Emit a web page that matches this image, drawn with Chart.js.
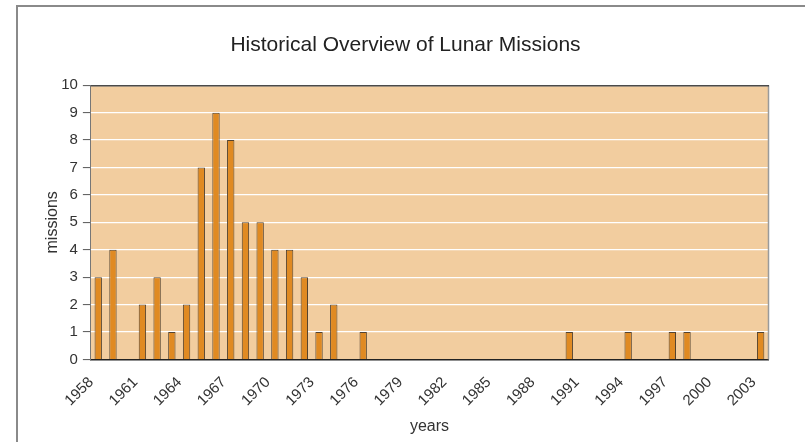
<!DOCTYPE html>
<html>
<head>
<meta charset="utf-8">
<title>Lunar missions</title>
<script src="https://cdn.jsdelivr.net/npm/chart.js@4/dist/chart.umd.min.js"></script>
<style>
  html, body { margin: 0; padding: 0; background: #fff; overflow: hidden; }
  #frame {
    position: absolute; left: 16px; top: 5px;
    width: 800px; height: 450px;
    border-left: 2px solid #8a8a8a; border-top: 2px solid #8a8a8a;
  }
  #wrap { position: absolute; left: 0; top: 0; width: 782px; height: 435px; }
</style>
</head>
<body>
<div id="frame">
  <div id="wrap"><canvas id="lunar-graph"></canvas></div>
</div>
<script>
// missions launched per year
const years = [1958, 1959, 1960, 1961, 1962, 1963, 1964, 1965, 1966, 1967,
  1968, 1969, 1970, 1971, 1972, 1973, 1974, 1975, 1976, 1977,
  1978, 1979, 1980, 1981, 1982, 1983, 1984, 1985, 1986, 1987,
  1988, 1989, 1990, 1991, 1992, 1993, 1994, 1995, 1996, 1997,
  1998, 1999, 2000, 2001, 2002, 2003]
const missions = [3, 4, 0, 2, 3, 1, 2, 7, 9, 8,
  5, 5, 4, 4, 3, 1, 2, 0, 1, 0,
  0, 0, 0, 0, 0, 0, 0, 0, 0, 0,
  0, 0, 1, 0, 0, 0, 1, 0, 0, 1,
  1, 0, 0, 0, 0, 1]
const yTicks = [0, 1, 2, 3, 4, 5, 6, 7, 8, 9, 10]

const plot_bg = "#f2cd9f"
const bar_color = "#e08a22"
const bar_border = "#54432f"

// tan plot background plus the darker frame on top and right
const plotFrame = {
    id: 'plotFrame',
    beforeDraw(chart) {
        var a = chart.chartArea
        var ctx = chart.ctx
        ctx.save()
        ctx.fillStyle = plot_bg
        ctx.fillRect(a.left, a.top, a.right - a.left, a.bottom - a.top)
        ctx.restore()
    },
    afterDatasetsDraw(chart) {
        var a = chart.chartArea
        var ctx = chart.ctx
        ctx.save()
        ctx.lineWidth = 1.5
        ctx.strokeStyle = "#9a9a9a"
        ctx.beginPath()
        ctx.moveTo(a.right + 0.5, a.top)
        ctx.lineTo(a.right + 0.5, a.bottom)
        ctx.stroke()
        ctx.strokeStyle = "#4a4a4a"
        ctx.beginPath()
        ctx.moveTo(a.left, a.top + 0.5)
        ctx.lineTo(a.right + 1, a.top + 0.5)
        ctx.stroke()
        ctx.restore()
    }
}

Chart.defaults.font.family = "'Liberation Sans', Arial, sans-serif"
Chart.defaults.color = "#333"

var graph = document.getElementById('lunar-graph')
var chart = new Chart(graph, {
    type: 'bar',
    data: {
        labels: years,
        datasets: [{
            label: 'missions',
            data: missions,
            backgroundColor: bar_color,
            borderColor: bar_border,
            borderWidth: 1,
            borderSkipped: 'bottom',
            categoryPercentage: 1.0,
            barPercentage: 0.5,
        }]
    },
    options: {
        responsive: true,
        maintainAspectRatio: false,
        animation: false,
        layout: {
            autoPadding: false,
            padding: { left: 25, right: 32, top: 0, bottom: 6 }
        },
        plugins: {
            legend: { display: false },
            tooltip: { enabled: false },
            title: {
                display: true,
                text: 'Historical Overview of Lunar Missions',
                color: '#222',
                font: { size: 21, weight: 'normal' },
                padding: { top: 26, bottom: 27 }
            }
        },
        scales: {
            x: {
                grid: { display: false, drawTicks: false },
                border: { color: '#222', width: 1.5 },
                ticks: {
                    autoSkip: false,
                    minRotation: 45,
                    maxRotation: 45,
                    padding: 14,
                    labelOffset: -7,
                    font: { size: 15 },
                    callback(value, index) {
                        return index % 3 == 0 ? years[index] : ''
                    }
                },
                title: { display: true, text: 'years', font: { size: 16 }, padding: { top: -7, bottom: 0 } }
            },
            y: {
                min: 0,
                max: 10,
                afterBuildTicks(axis) {
                    axis.ticks = yTicks.map(v => ({ value: v }))
                },
                grid: {
                    color: ctx => ctx.tick && ctx.tick.value == 0 ? 'rgba(0,0,0,0)' : '#ffffff',
                    lineWidth: 1.2,
                    tickColor: '#555',
                    tickLength: 8,
                    tickWidth: 1
                },
                border: { color: '#777', width: 1 },
                ticks: { font: { size: 15 }, padding: 5 },
                title: { display: true, text: 'missions', font: { size: 16 }, padding: { top: 0, bottom: -6 } }
            }
        }
    },
    plugins: [plotFrame]
})
</script>
</body>
</html>
